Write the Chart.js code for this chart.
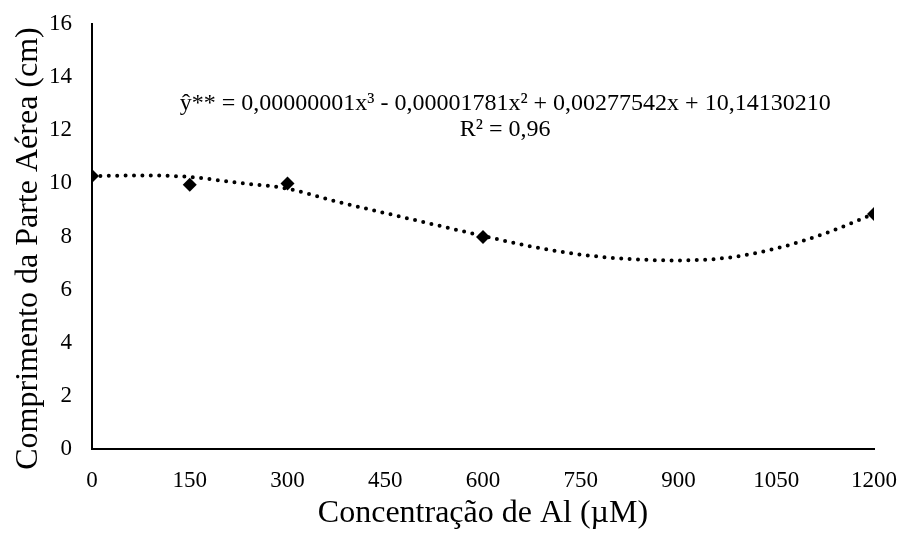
<!DOCTYPE html>
<html lang="pt">
<head>
  <meta charset="UTF-8">
  <title>Comprimento da Parte Aérea</title>
  <script src="https://cdn.jsdelivr.net/npm/chart.js"></script>
  <style>
    body { margin: 0; background: #fff; }
    #wrap { width: 901px; height: 533px; }
  </style>
</head>
<body>
  <div id="wrap"><canvas id="grafico"></canvas></div>
  <script>
    // dados observados
    var concentracao = [0, 150, 300, 600, 1200];
    var comprimento = [10.28, 9.95, 10.0, 7.98, 8.85];

    // linha de tendência
    var tendX = [0, 75, 150, 225, 300, 375, 450, 525, 600, 675, 750, 825, 900, 975, 1050, 1125, 1200];
    var tendY = [10.27, 10.3, 10.24, 10.02, 9.8, 9.32, 8.88, 8.45, 8.02, 7.62, 7.32, 7.15, 7.1, 7.2, 7.55, 8.12, 8.85];

    var xTicks = [0, 150, 300, 450, 600, 750, 900, 1050, 1200];
    var yTicks = [0, 2, 4, 6, 8, 10, 12, 14, 16];

    var equacao = 'ŷ** = 0,00000001x³ - 0,00001781x² + 0,00277542x + 10,14130210';
    var r2 = 'R² = 0,96';

    var fonte = '"Liberation Serif", "Times New Roman", serif';

    // escreve a equação sobre o gráfico
    var textoEquacao = {
      id: 'textoEquacao',
      afterDatasetsDraw: function(chart) {
        var ctx = chart.ctx;
        var sx = chart.scales.x, sy = chart.scales.y;
        var cx = sx.getPixelForValue(634);
        ctx.save();
        ctx.fillStyle = '#000';
        ctx.font = '24px ' + fonte;
        ctx.textAlign = 'center';
        ctx.textBaseline = 'alphabetic';
        ctx.fillText(equacao, cx, sy.getPixelForValue(12.76));
        ctx.fillText(r2, cx, sy.getPixelForValue(11.78));
        ctx.restore();
      }
    };

    var pontos = concentracao.map(function(x, i) { return {x: x, y: comprimento[i]}; });
    var tendencia = tendX.map(function(x, i) { return {x: x, y: tendY[i]}; });

    new Chart(document.getElementById('grafico'), {
      type: 'scatter',
      data: {
        datasets: [{
          label: 'Observado',
          data: pontos,
          pointStyle: 'rectRot',
          pointRadius: 7,
          backgroundColor: '#000',
          borderColor: '#000',
          borderWidth: 0
        }, {
          label: 'Tendência',
          data: tendencia,
          showLine: true,
          pointRadius: 0,
          borderColor: '#000',
          borderWidth: 4,
          borderDash: [0, 8.4],
          borderCapStyle: 'round',
          cubicInterpolationMode: 'monotone'
        }]
      },
      options: {
        responsive: true,
        maintainAspectRatio: false,
        animation: false,
        layout: { padding: { top: 24, right: 27, bottom: 0, left: 0 } },
        plugins: {
          legend: { display: false },
          tooltip: { enabled: false }
        },
        scales: {
          x: {
            type: 'linear',
            min: 0, max: 1200,
            afterBuildTicks: function(s) { s.ticks = xTicks.map(function(v) { return {value: v}; }); },
            afterFit: function(s) { s.height = 533 - 449; s.paddingLeft = 0; s.paddingRight = 0; },
            grid: { display: false, drawTicks: false },
            border: { display: true, color: '#000', width: 2 },
            ticks: { color: '#000', font: { family: fonte, size: 23 }, padding: 18,
              callback: function(v) { return String(v); } },
            title: { display: true, text: 'Concentração de Al (µM)', color: '#000', font: { family: fonte, size: 32 }, padding: { top: 0, bottom: 0 } }
          },
          y: {
            min: 0, max: 16,
            afterBuildTicks: function(s) { s.ticks = yTicks.map(function(v) { return {value: v}; }); },
            afterFit: function(s) { s.width = 92; s.paddingTop = 0; s.paddingBottom = 0; },
            grid: { display: false, drawTicks: false },
            border: { display: true, color: '#000', width: 2 },
            ticks: { color: '#000', font: { family: fonte, size: 23 }, padding: 20,
              callback: function(v) { return String(v); } },
            // espaços no fim para descer um pouco o título
            title: { display: true, text: 'Comprimento da Parte Aérea (cm)   ', color: '#000', font: { family: fonte, size: 32 }, padding: { top: 9, bottom: 0 } }
          }
        }
      },
      plugins: [textoEquacao]
    });
  </script>
</body>
</html>
